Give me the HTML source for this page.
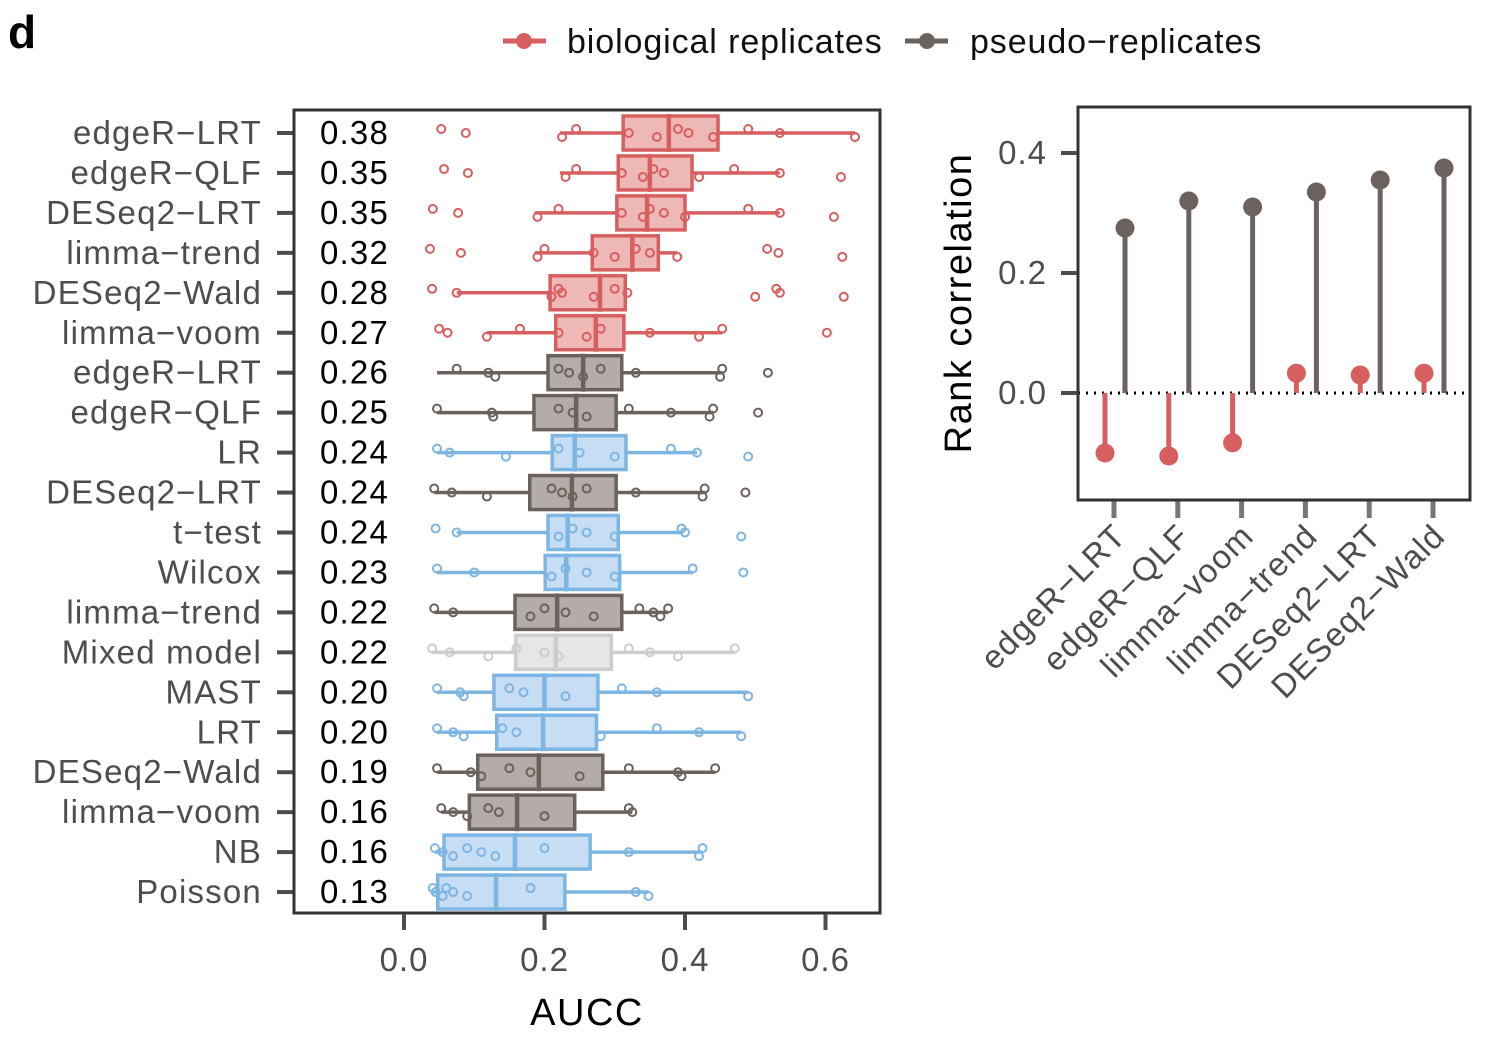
<!DOCTYPE html>
<html><head><meta charset="utf-8"><style>
body{margin:0;background:#fff;}
svg{display:block;font-family:"Liberation Sans",Arial,sans-serif;}
</style></head><body>
<svg id="c" width="1486" height="1044" viewBox="0 0 1486 1044">
<text x="8" y="48" font-size="46" font-weight="bold">d</text>
<g>
 <g>
  <line x1="503" y1="41" x2="546" y2="41" stroke="#d75f5f" stroke-width="5"/>
  <circle cx="524" cy="41" r="8" fill="#d75f5f"/>
  <text x="567" y="53" font-size="34" letter-spacing="0.9" fill="#111">biological replicates</text>
 </g>
 <g>
  <line x1="905" y1="41" x2="948" y2="41" stroke="#6b625e" stroke-width="5"/>
  <circle cx="927" cy="41" r="8" fill="#6b625e"/>
  <text x="970" y="53" font-size="34" letter-spacing="0.9" fill="#111">pseudo−replicates</text>
 </g>
</g>
<g id="left"></g>
<g id="right"></g>
</svg>
<script>
const NS="http://www.w3.org/2000/svg";
// ---- left chart data ----
const methods=["edgeR−LRT","edgeR−QLF","DESeq2−LRT","limma−trend","DESeq2−Wald","limma−voom","edgeR−LRT","edgeR−QLF","LR","DESeq2−LRT","t−test","Wilcox","limma−trend","Mixed model","MAST","LRT","DESeq2−Wald","limma−voom","NB","Poisson"];
const groups=["bio","bio","bio","bio","bio","bio","pseudo","pseudo","sc","pseudo","sc","sc","pseudo","mixed","sc","sc","pseudo","pseudo","sc","sc"];
const meanLabels=["0.38","0.35","0.35","0.32","0.28","0.27","0.26","0.25","0.24","0.24","0.24","0.23","0.22","0.22","0.20","0.20","0.19","0.16","0.16","0.13"];
const q1=[0.312,0.305,0.303,0.268,0.208,0.216,0.205,0.185,0.211,0.179,0.205,0.201,0.158,0.159,0.128,0.132,0.105,0.093,0.057,0.048];
const q3=[0.447,0.41,0.40,0.362,0.315,0.313,0.31,0.302,0.316,0.302,0.305,0.307,0.31,0.295,0.276,0.274,0.283,0.243,0.265,0.229];
const med=[0.377,0.35,0.346,0.325,0.279,0.273,0.255,0.245,0.243,0.239,0.233,0.231,0.218,0.216,0.2,0.198,0.192,0.161,0.158,0.131];
const wlo=[0.222,0.222,0.186,0.186,0.075,0.118,0.047,0.047,0.047,0.043,0.075,0.047,0.043,0.04,0.047,0.047,0.047,0.053,0.044,0.041];
const whi=[0.642,0.535,0.535,0.389,0.318,0.453,0.453,0.44,0.417,0.428,0.397,0.411,0.376,0.471,0.49,0.48,0.443,0.325,0.425,0.348];
const pts=[
 [0.053,0.088,0.225,0.245,0.32,0.36,0.39,0.405,0.44,0.49,0.535,0.642],
 [0.057,0.091,0.23,0.245,0.31,0.34,0.355,0.37,0.42,0.47,0.535,0.622],
 [0.041,0.077,0.19,0.22,0.31,0.34,0.35,0.37,0.40,0.49,0.535,0.612],
 [0.037,0.081,0.19,0.2,0.27,0.3,0.33,0.35,0.389,0.517,0.533,0.624],
 [0.04,0.075,0.21,0.22,0.225,0.27,0.3,0.318,0.5,0.53,0.535,0.626],
 [0.05,0.062,0.118,0.165,0.22,0.26,0.28,0.35,0.42,0.453,0.602],
 [0.075,0.12,0.13,0.22,0.235,0.255,0.28,0.33,0.45,0.453,0.518],
 [0.047,0.125,0.127,0.22,0.24,0.26,0.32,0.38,0.435,0.44,0.504],
 [0.047,0.065,0.145,0.22,0.25,0.3,0.38,0.417,0.49],
 [0.043,0.068,0.118,0.21,0.225,0.24,0.26,0.33,0.425,0.428,0.486],
 [0.045,0.075,0.22,0.24,0.26,0.3,0.395,0.4,0.48],
 [0.047,0.1,0.21,0.23,0.26,0.3,0.411,0.483],
 [0.043,0.07,0.18,0.2,0.23,0.27,0.335,0.355,0.365,0.376],
 [0.04,0.065,0.12,0.16,0.2,0.22,0.32,0.35,0.39,0.471],
 [0.047,0.08,0.085,0.15,0.17,0.23,0.31,0.36,0.49],
 [0.047,0.07,0.085,0.14,0.16,0.28,0.36,0.42,0.48],
 [0.047,0.095,0.11,0.15,0.18,0.25,0.32,0.39,0.395,0.443],
 [0.053,0.07,0.09,0.12,0.135,0.2,0.32,0.325],
 [0.044,0.055,0.07,0.09,0.11,0.13,0.2,0.32,0.42,0.425],
 [0.041,0.045,0.055,0.06,0.07,0.09,0.18,0.33,0.348]
];
const xTicks=[0,0.2,0.4,0.6];
const xTickLabels=["0.0","0.2","0.4","0.6"];
// ---- right chart data ----
const rcCats=["edgeR−LRT","edgeR−QLF","limma−voom","limma−trend","DESeq2−LRT","DESeq2−Wald"];
const rcPseudo=[0.275,0.32,0.31,0.335,0.355,0.375];
const rcBio=[-0.1,-0.105,-0.083,0.033,0.03,0.033];
const yTicks=[0,0.2,0.4];
const yTickLabels=["0.0","0.2","0.4"];

const col={bio:"#d75f5f",pseudo:"#6b625e",sc:"#7db5e3",mixed:"#cdcdcd"};
const fillc={bio:"#eeb8b6",pseudo:"#b4aca9",sc:"#c6ddf3",mixed:"#e6e6e6"};
function mk(p,t,a){const e=document.createElementNS(NS,t);for(const k in a)e.setAttribute(k,a[k]);p.appendChild(e);return e;}
const L=document.getElementById('left');
const xs=v=>404+v*702.5;
const ys=i=>133+i*39.95;
for(let i=0;i<methods.length;i++){
 const y=ys(i),g=groups[i],c=col[g];
 const row=mk(L,'g',{});
 
 
 mk(row,'line',{x1:xs(wlo[i]),x2:xs(whi[i]),y1:y,y2:y,stroke:c,'stroke-width':3.5});
 mk(row,'rect',{x:xs(q1[i]),y:y-17,width:xs(q3[i])-xs(q1[i]),height:34,fill:fillc[g],stroke:c,'stroke-width':3.5});
 mk(row,'line',{x1:xs(med[i]),x2:xs(med[i]),y1:y-19,y2:y+19,stroke:c,'stroke-width':4.5});
 pts[i].forEach((v,k)=>{mk(row,'circle',{cx:xs(v),cy:y+((k%3)-1)*4,r:4,fill:'none',stroke:c,'stroke-width':2});});
 const lab=mk(L,'text',{x:262,y:y+11,'text-anchor':'end','font-size':33,'letter-spacing':1.2,fill:'#4d4d4d'});lab.textContent=methods[i];
 
 mk(L,'line',{x1:277,x2:293,y1:y,y2:y,stroke:'#4d4d4d','stroke-width':4});
 const m=mk(L,'text',{x:320,y:y+11,'font-size':33,'letter-spacing':1.2,fill:'#000'});m.textContent=meanLabels[i];
 
}
mk(L,'rect',{x:294,y:110,width:586,height:803,fill:'none',stroke:'#333','stroke-width':3});
xTicks.forEach((v,k)=>{mk(L,'line',{x1:xs(v),x2:xs(v),y1:914,y2:930,stroke:'#4d4d4d','stroke-width':4});
 const t=mk(L,'text',{x:xs(v),y:971,'text-anchor':'middle','font-size':33,'letter-spacing':1,fill:'#4d4d4d'});t.textContent=xTickLabels[k];});
const xt=mk(L,'text',{x:587,y:1025,'text-anchor':'middle','font-size':38,'letter-spacing':1.5,fill:'#000'});xt.textContent='AUCC';

// right
const R=document.getElementById('right');
const rx=i=>1114+i*63.8;
const ry=v=>393-v*600;
mk(R,'line',{x1:1078,x2:1470,y1:393,y2:393,stroke:'#000','stroke-width':3,'stroke-dasharray':'2 6'});
for(let i=0;i<rcCats.length;i++){
 const gb=mk(R,'g',{});
 mk(gb,'line',{x1:rx(i)-9,x2:rx(i)-9,y1:ry(0),y2:ry(rcBio[i]),stroke:col.bio,'stroke-width':5});
 mk(gb,'circle',{cx:rx(i)-9,cy:ry(rcBio[i]),r:9.5,fill:col.bio});
 const gp=mk(R,'g',{});
 mk(gp,'line',{x1:rx(i)+11,x2:rx(i)+11,y1:ry(0),y2:ry(rcPseudo[i]),stroke:col.pseudo,'stroke-width':5});
 mk(gp,'circle',{cx:rx(i)+11,cy:ry(rcPseudo[i]),r:9.5,fill:col.pseudo});
 mk(R,'line',{x1:rx(i),x2:rx(i),y1:501,y2:518,stroke:'#777','stroke-width':5});
 const t=mk(R,'text',{x:0,y:0,'text-anchor':'end','font-size':33,'letter-spacing':1.2,fill:'#4d4d4d',transform:`translate(${rx(i)+14},${538}) rotate(-45)`});t.textContent=rcCats[i];
 
}
mk(R,'rect',{x:1078,y:107,width:392,height:393,fill:'none',stroke:'#333','stroke-width':3});
yTicks.forEach((v,k)=>{mk(R,'line',{x1:1061,x2:1077,y1:ry(v),y2:ry(v),stroke:'#4d4d4d','stroke-width':4});
 const t=mk(R,'text',{x:1047,y:ry(v)+11,'text-anchor':'end','font-size':33,'letter-spacing':1,fill:'#4d4d4d'});t.textContent=yTickLabels[k];});
const yt=mk(R,'text',{x:0,y:0,'text-anchor':'middle','font-size':38,'letter-spacing':1.5,fill:'#000',transform:'translate(971,303) rotate(-90)'});yt.textContent='Rank correlation';

</script>
</body></html>
